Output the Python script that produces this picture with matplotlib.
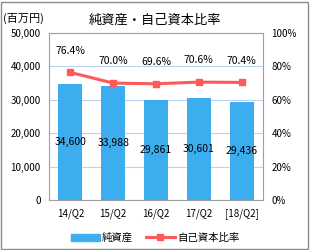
import matplotlib
matplotlib.use('Agg')
import matplotlib.pyplot as plt
from matplotlib.patches import Rectangle
from matplotlib.lines import Line2D
from matplotlib.patches import Patch

plt.rcParams['font.family'] = ['Noto Sans CJK JP', 'DejaVu Sans']

# data
periods = ['14/Q2', '15/Q2', '16/Q2', '17/Q2', '[18/Q2]']
net_assets = [34600, 33988, 29861, 30601, 29436]
equity_ratio = [76.4, 70.0, 69.6, 70.6, 70.4]

W, H = 310, 250
fig = plt.figure(figsize=(W / 100, H / 100), dpi=100)
fig.patches.append(Rectangle((1 / W, 1 / H), 307 / W, 247 / H, transform=fig.transFigure,
                             fill=False, edgecolor='#8c8c8c', linewidth=1))

ax = fig.add_axes([49 / W, 1 - 200 / H, 214 / W, 167 / H])
x = list(range(len(periods)))
ax.bar(x, net_assets, width=0.56, color='#3CADEE', zorder=2)
ax.set_ylim(0, 50000)
ax.set_xlim(-0.5, len(periods) - 0.5)
ax.set_yticks(range(0, 50001, 10000))
ax.set_yticklabels(['0', '10,000', '20,000', '30,000', '40,000', '50,000'])
ax.set_xticks(x)
ax.set_xticklabels(periods)
ax.grid(axis='y', color='#b8d4f0', linewidth=0.8, zorder=0)
ax.tick_params(length=0, labelsize=7, pad=6)
for s in ax.spines.values():
    s.set_color('#a0a0a0')
    s.set_linewidth(0.8)

for i, v in enumerate(net_assets):
    ax.text(i, v / 2, f'{v:,}', ha='center', va='center', fontsize=7.5, zorder=4)

ax2 = ax.twinx()
ax2.set_ylim(0, 100)
ax2.set_yticks(range(0, 101, 20))
ax2.set_yticklabels([f'{t}%' for t in range(0, 101, 20)])
ax2.tick_params(length=0, labelsize=7, pad=6)
for s in ax2.spines.values():
    s.set_visible(False)
ax2.plot(x, equity_ratio, color='#FF5A5A', linewidth=2.2, marker='s', markersize=5, zorder=3)
for i, v in enumerate(equity_ratio):
    ax2.annotate(f'{v:.1f}%', (i, v), xytext=(0, 12), textcoords='offset points',
                 ha='center', va='bottom', fontsize=7.5)

fig.text(155 / W, 1 - 20 / H, '純資産・自己資本比率', ha='center', va='center', fontsize=9.5)
fig.text(3 / W, 1 - 18 / H, '(百万円)', ha='left', va='center', fontsize=8)

handles = [Patch(color='#3CADEE'),
           Line2D([0], [0], color='#FF5A5A', linewidth=2.2, marker='s', markersize=4)]
fig.legend(handles, ['純資産', '自己資本比率'], loc='center', bbox_to_anchor=(155 / W, 1 - 238 / H),
           ncol=2, frameon=False, fontsize=7.5, handlelength=2.8, handleheight=0.7,
           columnspacing=1.2, handletextpad=0.2)

fig.savefig('out.png', dpi=100)
